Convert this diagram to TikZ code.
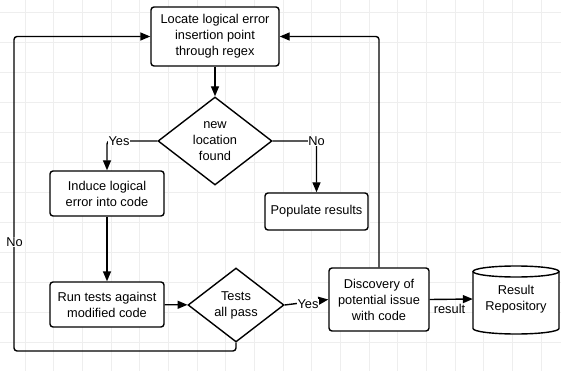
\documentclass[tikz,border=0pt]{standalone}
\usepackage{fontspec}
\setmainfont{Liberation Sans}
\usetikzlibrary{shapes.geometric,arrows.meta}
\definecolor{gridc}{HTML}{EEEEEE}
\begin{document}
\begin{tikzpicture}[x=1pt,y=-1pt,
  every node/.style={font=\fontsize{12.8}{16}\selectfont},
  box/.style={draw, fill=white, rounded corners=3pt, line width=1.4pt, align=center, inner sep=0pt},
  decision/.style={draw, fill=white, diamond, line width=1.4pt, align=center, inner sep=0pt, aspect=1.3},
  conn/.style={line width=1.4pt, -{Triangle[length=10pt,width=8pt]}, rounded corners=3pt},
  lbl/.style={fill=white, inner sep=0.5pt},
  gridline/.style={draw=gridc, line width=0.7pt}]
\useasboundingbox (0,0) rectangle (561,371);
\fill[white] (0,0) rectangle (561,371);
\foreach \i in {0,...,18} \draw[gridline] ({25+28.67*\i},0) -- ({25+28.67*\i},371);
\foreach \j in {0,...,11} \draw[gridline] (0,{12+30*\j}) -- (561,{12+30*\j});

\node[box, minimum width=128pt, minimum height=59pt] (locate) at (215,36.5) {Locate logical error\\insertion point\\through regex};
\node[decision, minimum width=114pt, minimum height=88pt] (newloc) at (215,141) {new\\location\\found};
\node[box, minimum width=114pt, minimum height=45pt] (induce) at (107,193.5) {Induce logical\\error into code};
\node[box, minimum width=114pt, minimum height=45pt] (run) at (107,304.5) {Run tests against\\modified code};
\node[decision, minimum width=96pt, minimum height=74pt] (tests) at (236,305) {Tests\\all pass};
\node[box, minimum width=103pt, minimum height=37pt] (populate) at (316.5,211.5) {Populate results};
\node[box, minimum width=100pt, minimum height=63pt] (disc) at (379,299.5) {Discovery of\\potential issue\\with code};

% cylinder
\fill[white] (473,271.5) -- (473,328.5) arc[start angle=180, end angle=0, x radius=43, y radius=5.5] -- (559,271.5) -- cycle;
\draw[line width=1.4pt] (473,271.5) -- (473,328.5) arc[start angle=180, end angle=0, x radius=43, y radius=5.5] -- (559,271.5);
\filldraw[fill=white, line width=1.4pt] (516,271.5) ellipse [x radius=43, y radius=5.5];
\node[minimum width=86pt, minimum height=68pt, inner sep=0pt, align=center] (repo) at (516,299) {Result\\Repository};

\coordinate (lb) at (14,351);

\draw[conn] (locate) -- (newloc);
\draw[conn] (newloc.west) -| (induce.north);
\node[lbl] (yes1) at (119,141) {Yes};
\draw[conn] (newloc.east) -| (populate.north);
\node[lbl] (no1) at (316.5,141) {No};
\draw[conn] (induce) -- (run);
\draw[conn] (run) -- (tests);
\draw[conn] (tests.south) |- (lb) |- (locate.west);
\node[lbl] (no2) at (14.5,242) {No};
\draw[conn] (tests.east) -- (disc.west);
\node[lbl] (yes2) at (308,304) {Yes};
\draw[conn] (disc.north) |- (locate.east);
\draw[conn] (disc.east) -- (repo.west);
\node[inner sep=0pt] (reslbl) at (449.5,308.5) {result};
\end{tikzpicture}
\end{document}
